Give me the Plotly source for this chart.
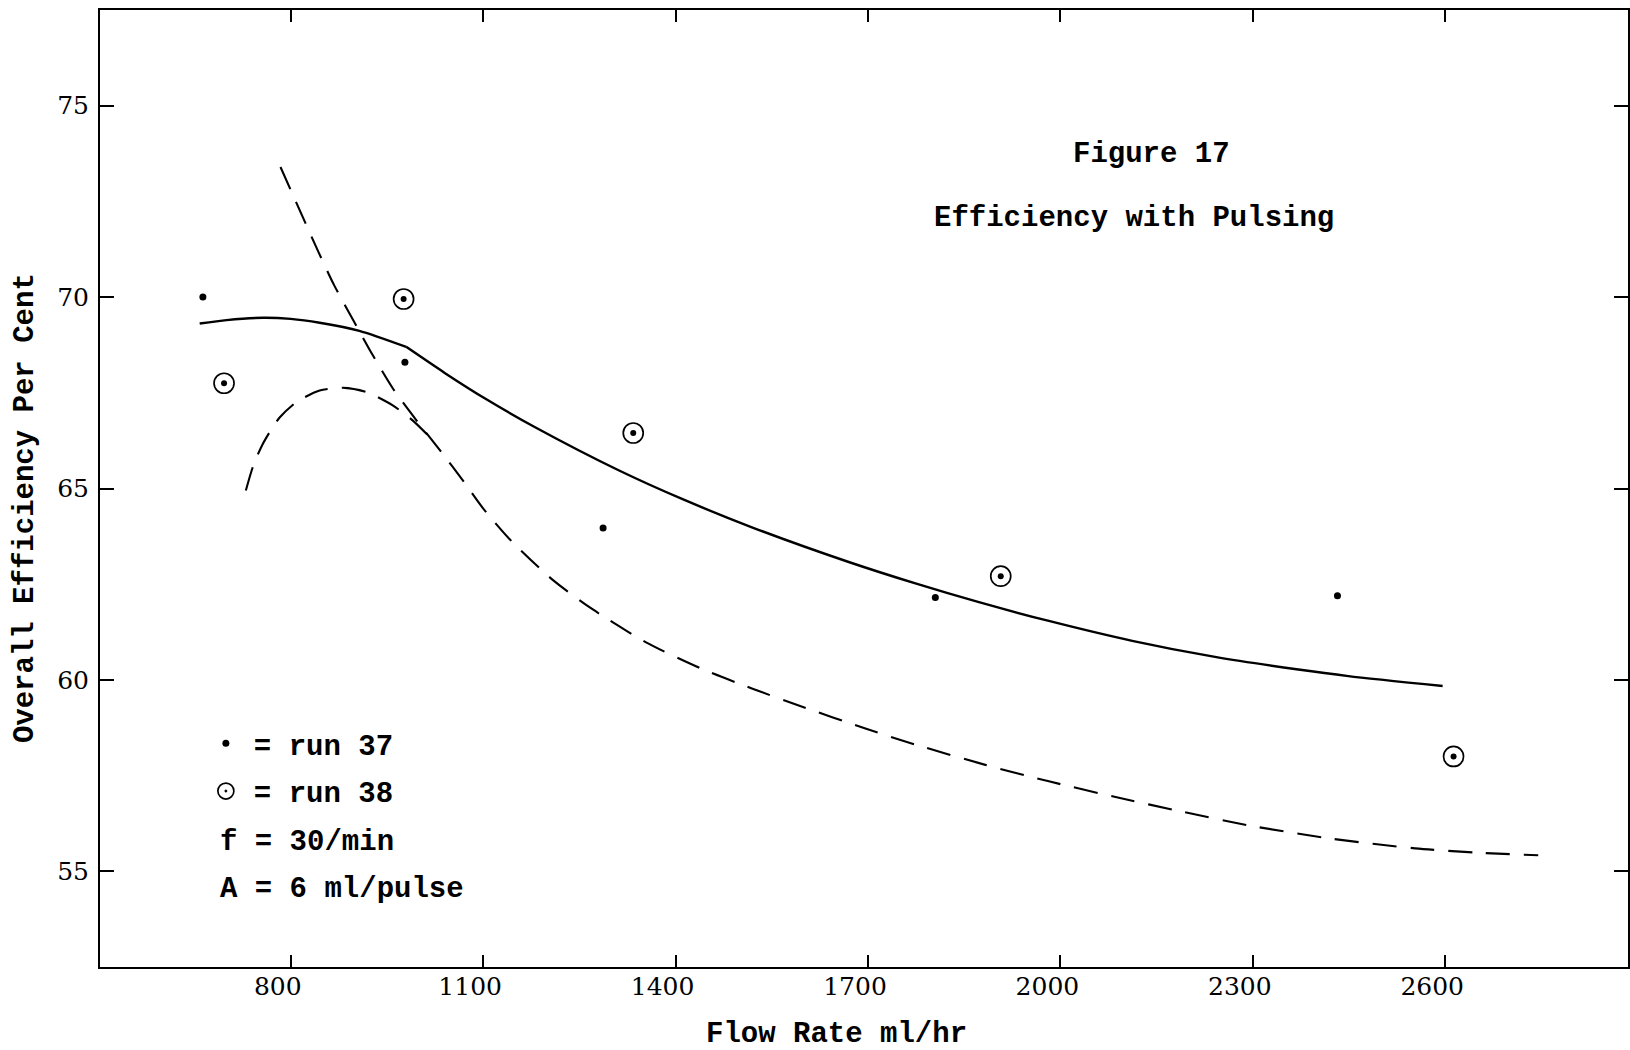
import plotly.graph_objects as go

# ---- data ----
run37_flow = [663, 978, 1287, 1805, 2432]
run37_eff = [70.0, 68.3, 63.97, 62.15, 62.2]
run38_flow = [696, 976, 1334, 1907, 2613]
run38_eff = [67.75, 69.95, 66.45, 62.71, 58.0]

solid_a_flow = [658, 700, 757, 800, 845, 907, 980]
solid_a_eff = [69.31, 69.40, 69.46, 69.43, 69.33, 69.12, 68.70]
solid_b_flow = [980, 1040, 1105, 1181, 1312, 1411, 1520, 1670, 1774, 1873,
                1982, 2112, 2241, 2371, 2449, 2596]
solid_b_eff = [68.70, 68.02, 67.33, 66.60, 65.47, 64.72, 63.98, 63.08, 62.52, 62.03,
               61.54, 61.02, 60.60, 60.27, 60.10, 59.84]

dash_main_flow = [784, 844, 868, 899, 928, 959, 996, 1035, 1068, 1099, 1141, 1208,
                  1271, 1354, 1442, 1520, 1592, 1696, 1774, 1883, 1982, 2086, 2189,
                  2293, 2423, 2553, 2657, 2745]
dash_main_eff = [73.40, 71.15, 70.30, 69.35, 68.48, 67.62, 66.78, 65.95, 65.22, 64.50,
                 63.68, 62.62, 61.84, 60.98, 60.28, 59.77, 59.33, 58.73, 58.31, 57.78,
                 57.35, 56.94, 56.56, 56.20, 55.85, 55.60, 55.48, 55.42]

dash_hump_flow = [730, 742, 756, 770, 783, 809, 845, 881, 918, 959, 990, 1027]
dash_hump_eff = [64.95, 65.62, 66.15, 66.55, 66.86, 67.26, 67.56, 67.63, 67.52, 67.17,
                 66.78, 66.17]

x_ticks = [800, 1100, 1400, 1700, 2000, 2300, 2600]
y_ticks = [55, 60, 65, 70, 75]

legend_notes = ["f = 30/min", "A = 6 ml/pulse"]
title_lines = ["Figure 17", "Efficiency with Pulsing"]
x_title = "Flow Rate ml/hr"
y_title = "Overall Efficiency Per Cent"

TYPE = "Liberation Mono"
NUM = "DejaVu Serif"
INK = "black"

fig = go.Figure()

line_solid = dict(color=INK, width=2.4, shape="spline", smoothing=0.7)
line_dash = dict(color=INK, width=2.1, shape="spline", smoothing=0.7, dash="24px,14px")

fig.add_trace(go.Scatter(x=solid_a_flow, y=solid_a_eff, mode="lines",
                         line=line_solid, showlegend=False, hoverinfo="skip"))
fig.add_trace(go.Scatter(x=solid_b_flow, y=solid_b_eff, mode="lines",
                         line=line_solid, showlegend=False, hoverinfo="skip"))
fig.add_trace(go.Scatter(x=dash_main_flow, y=dash_main_eff, mode="lines",
                         line=line_dash, showlegend=False, hoverinfo="skip"))
fig.add_trace(go.Scatter(x=dash_hump_flow, y=dash_hump_eff, mode="lines",
                         line=line_dash, showlegend=False, hoverinfo="skip"))

fig.add_trace(go.Scatter(x=run37_flow, y=run37_eff, mode="markers", name="= run 37",
                         legendgroup="r37",
                         marker=dict(symbol="circle", size=7, color=INK)))
fig.add_trace(go.Scatter(x=run38_flow, y=run38_eff, mode="markers", name="= run 38",
                         legendgroup="r38",
                         marker=dict(symbol="circle-open-dot", size=20, color=INK,
                                     line=dict(width=1.7, color=INK))))
fig.add_trace(go.Scatter(x=run38_flow, y=run38_eff, mode="markers", showlegend=False,
                         legendgroup="r38",
                         marker=dict(symbol="circle", size=6, color=INK)))

# plot area: x 100..1630 px, y 10..967 px
L, R, T, B = 100, 1630, 10, 967
W, H = R - L, B - T

def px(xp):
    return (xp - L) / W

def py(yp):
    return (B - yp) / H

annotations = [
    dict(text=title_lines[0], x=px(1153), y=py(155)),
    dict(text=title_lines[1], x=px(1135), y=py(219)),
    dict(text=x_title, x=px(837), y=py(1034)),
    dict(text=y_title, x=px(25), y=py(508), textangle=-90),
]
for txt, yy in zip(legend_notes, [842, 889]):
    annotations.append(dict(text=txt, x=px(218), y=py(yy), xanchor="left"))
for a in annotations:
    a.update(xref="paper", yref="paper", showarrow=False,
             font=dict(family=TYPE, size=29, color=INK, weight="bold"))
    a.setdefault("xanchor", "center")
    a.setdefault("yanchor", "middle")

axis_common = dict(showline=True, linecolor=INK, linewidth=2, mirror="ticks",
                   ticks="inside", tickcolor=INK, tickwidth=2, showgrid=False,
                   zeroline=False, tickfont=dict(family=NUM, size=25, color=INK))

fig.update_layout(
    width=1630, height=1050,
    margin=dict(l=L, r=1630 - R, t=T, b=1050 - B),
    paper_bgcolor="white", plot_bgcolor="white",
    xaxis=dict(range=[502.6, 2885], tickvals=x_ticks, ticklen=12,
               ticklabelshift=-13, ticklabelstandoff=-4, **axis_common),
    yaxis=dict(range=[52.5, 77.5], tickvals=y_ticks, ticklen=14,
               ticklabelstandoff=4, **axis_common),
    annotations=annotations,
    showlegend=True,
    legend=dict(x=px(198), y=py(718), xanchor="left", yanchor="top",
                bgcolor="rgba(0,0,0,0)", borderwidth=0, itemwidth=46,
                traceorder="grouped", tracegroupgap=7,
                font=dict(family=TYPE, size=29, color=INK, weight="bold")),
)

fig.write_html("out.html")
